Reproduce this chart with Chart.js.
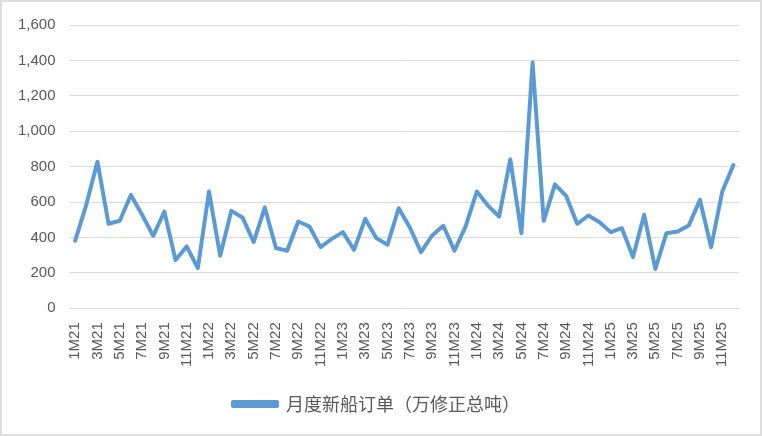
<!DOCTYPE html>
<html>
<head>
<meta charset="utf-8">
<script src="https://cdn.jsdelivr.net/npm/chart.js@4/dist/chart.umd.min.js"></script>
<style>
  html, body { margin: 0; padding: 0; background: #fff; }
  #wrap { position: relative; width: 762px; height: 436px; box-sizing: border-box; border: 2px solid #dedede; }
  canvas { display: block; }
</style>
</head>
<body>
<div id="wrap"><canvas id="c"></canvas></div>
<script>
const categories = [];
const years = ['21','22','23','24','25'];
for (const y of years) { for (let m = 1; m <= 12; m++) categories.push(m + 'M' + y); }

const seriesName = '月度新船订单（万修正总吨）';
const orders = [
  381, 584, 828, 477, 494, 640, 528, 409, 546, 272, 349, 227,
  659, 297, 550, 513, 374, 569, 340, 325, 490, 462, 345, 392,
  430, 330, 505, 396, 359, 565, 456, 317, 411, 466, 325, 462,
  659, 580, 518, 841, 424, 1388, 494, 700, 635, 477, 524, 486,
  430, 452, 289, 528, 222, 424, 434, 468, 612, 345, 659, 809
];
const yTicks = { min: 0, max: 1600, step: 200 };

const axisFont = "'Liberation Sans', Arial, sans-serif";
const legendFont = "'Noto Sans CJK SC', sans-serif";

const shiftLegend = {
  id: 'shiftLegend',
  afterLayout(chart) {
    if (chart.legend) { chart.legend.left += 5; chart.legend.right += 5; }
  }
};

new Chart(document.getElementById('c'), {
  type: 'line',
  data: {
    labels: categories,
    datasets: [{
      label: seriesName,
      data: orders,
      borderColor: '#5B9BD5',
      backgroundColor: '#5B9BD5',
      borderWidth: 4,
      pointRadius: 0,
      tension: 0,
      borderJoinStyle: 'round',
      borderCapStyle: 'round'
    }]
  },
  plugins: [shiftLegend],
  options: {
    responsive: true,
    maintainAspectRatio: false,
    animation: false,
    layout: { padding: { top: 11, right: 21, left: 2, bottom: 11 } },
    plugins: {
      legend: {
        position: 'bottom',
        labels: {
          color: '#595959',
          font: { family: legendFont, size: 18 },
          boxWidth: 44,
          boxHeight: 4,
          padding: 14
        }
      },
      tooltip: { enabled: false }
    },
    scales: {
      x: {
        offset: true,
        afterFit: function(s) { s.paddingRight = 0; },
        grid: { display: false, drawTicks: false },
        border: { display: false },
        ticks: {
          autoSkip: false,
          maxRotation: 90,
          minRotation: 90,
          color: '#595959',
          padding: 14,
          font: { family: axisFont, size: 15 },
          callback: function(v, i) { return i % 2 === 0 ? categories[i] : ''; }
        }
      },
      y: {
        min: yTicks.min,
        max: yTicks.max,
        grid: { color: '#d9d9d9', lineWidth: 1, drawTicks: false },
        border: { display: false },
        ticks: {
          stepSize: yTicks.step,
          color: '#595959',
          padding: 14,
          font: { family: axisFont, size: 15 },
          callback: v => v.toLocaleString('en-US')
        }
      }
    }
  }
});
</script>
</body>
</html>
